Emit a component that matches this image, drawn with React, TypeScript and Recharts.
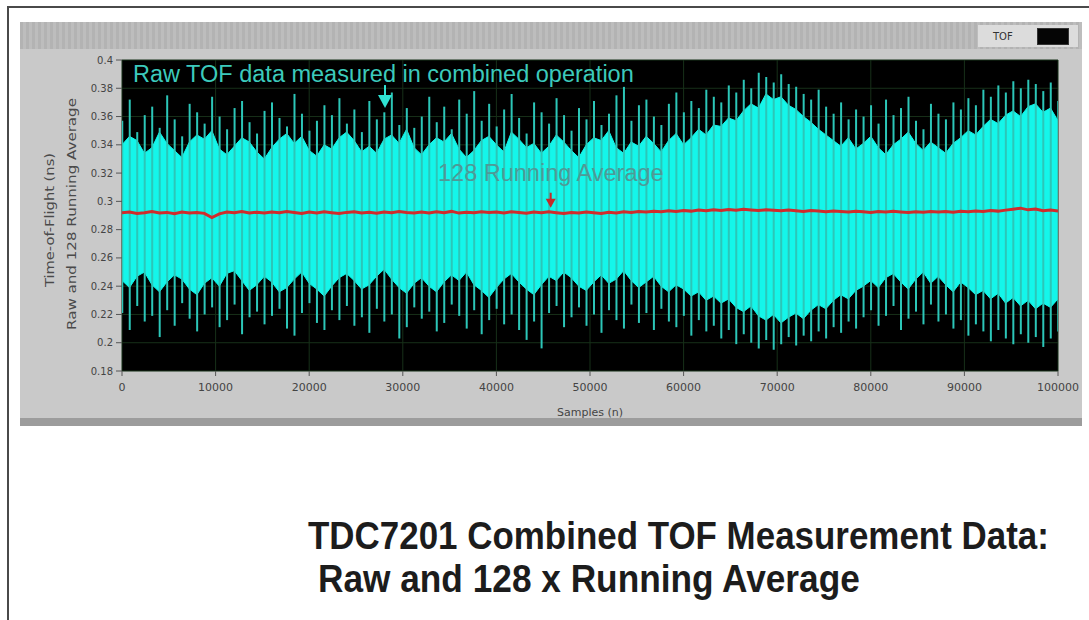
import React from 'react';
import { ComposedChart, Area, Bar, Line, XAxis, YAxis, CartesianGrid, ReferenceDot } from 'recharts';

// one bin = 800 samples; 126 bins cover 0..100000
const BIN_SIZE = 800;

const spikeHigh = [
  0.357, 0.372, 0.349, 0.361, 0.367, 0.352, 0.375, 0.358, 0.346, 0.369,
  0.363, 0.355, 0.374, 0.360, 0.351, 0.366, 0.371, 0.356, 0.348, 0.364,
  0.370, 0.359, 0.353, 0.376, 0.362, 0.350, 0.357, 0.368, 0.361, 0.373,
  0.355, 0.365, 0.349, 0.371, 0.358, 0.363, 0.377, 0.354, 0.366, 0.352,
  0.360, 0.374, 0.356, 0.367, 0.351, 0.372, 0.362, 0.378, 0.357, 0.369,
  0.353, 0.365, 0.376, 0.359, 0.348, 0.370, 0.363, 0.355, 0.373, 0.361,
  0.350, 0.366, 0.358, 0.371, 0.354, 0.362, 0.375, 0.381, 0.357, 0.368,
  0.372, 0.360, 0.354, 0.369, 0.377, 0.363, 0.371, 0.366, 0.379, 0.374,
  0.370, 0.382, 0.377, 0.386, 0.380, 0.391, 0.388, 0.384, 0.390, 0.383,
  0.381, 0.376, 0.372, 0.379, 0.367, 0.362, 0.370, 0.358, 0.365, 0.360,
  0.368, 0.355, 0.372, 0.361, 0.366, 0.374, 0.357, 0.351, 0.369, 0.362,
  0.358, 0.370, 0.365, 0.373, 0.368, 0.379, 0.374, 0.382, 0.377, 0.385,
  0.380, 0.386, 0.383, 0.378, 0.384, 0.371,
];

const spikeLow = [
  0.221, 0.209, 0.226, 0.215, 0.219, 0.204, 0.223, 0.212, 0.228, 0.217,
  0.208, 0.220, 0.225, 0.211, 0.216, 0.227, 0.206, 0.218, 0.222, 0.213,
  0.219, 0.224, 0.210, 0.205, 0.221, 0.228, 0.214, 0.209, 0.223, 0.216,
  0.226, 0.212, 0.218, 0.207, 0.224, 0.215, 0.220, 0.203, 0.211, 0.225,
  0.217, 0.222, 0.208, 0.214, 0.227, 0.219, 0.210, 0.223, 0.206, 0.216,
  0.224, 0.213, 0.220, 0.209, 0.202, 0.215, 0.196, 0.221, 0.226, 0.211,
  0.218, 0.225, 0.212, 0.220, 0.207, 0.223, 0.216, 0.210, 0.227, 0.214,
  0.221, 0.209, 0.224, 0.215, 0.211, 0.219, 0.205, 0.216, 0.208, 0.212,
  0.203, 0.209, 0.199, 0.206, 0.200, 0.196, 0.202, 0.195, 0.199, 0.204,
  0.198, 0.205, 0.201, 0.208, 0.203, 0.211, 0.207, 0.215, 0.210, 0.218,
  0.223, 0.212, 0.219, 0.226, 0.209, 0.217, 0.222, 0.213, 0.227, 0.215,
  0.220, 0.210, 0.216, 0.205, 0.213, 0.208, 0.201, 0.209, 0.203, 0.199,
  0.206, 0.200, 0.204, 0.197, 0.203, 0.208,
];

const bodyHigh = [
  0.340, 0.346, 0.343, 0.334, 0.338, 0.349, 0.341, 0.336, 0.331, 0.342,
  0.347, 0.344, 0.350, 0.337, 0.333, 0.339, 0.345, 0.342, 0.335, 0.330,
  0.338, 0.344, 0.348, 0.341, 0.346, 0.336, 0.332, 0.340, 0.337, 0.345,
  0.349, 0.343, 0.335, 0.339, 0.334, 0.344, 0.347, 0.341, 0.351, 0.338,
  0.333, 0.340, 0.345, 0.342, 0.348, 0.337, 0.331, 0.336, 0.343, 0.346,
  0.340, 0.335, 0.349, 0.344, 0.338, 0.341, 0.334, 0.339, 0.347, 0.342,
  0.336, 0.331, 0.340, 0.345, 0.343, 0.350, 0.338, 0.334, 0.342, 0.339,
  0.346, 0.341, 0.335, 0.343, 0.348, 0.340, 0.345, 0.351, 0.347, 0.354,
  0.353, 0.359, 0.357, 0.364, 0.369, 0.366, 0.376, 0.372, 0.374, 0.368,
  0.365, 0.360, 0.356, 0.351, 0.347, 0.343, 0.339, 0.345, 0.337, 0.341,
  0.346, 0.338, 0.333, 0.340, 0.344, 0.349, 0.341, 0.336, 0.342, 0.338,
  0.334, 0.341, 0.345, 0.350, 0.347, 0.353, 0.358, 0.355, 0.361, 0.364,
  0.360, 0.367, 0.369, 0.363, 0.366, 0.357,
];

const bodyLow = [
  0.244, 0.239, 0.247, 0.250, 0.241, 0.236, 0.243, 0.248, 0.245, 0.238,
  0.234, 0.242, 0.246, 0.240, 0.249, 0.251, 0.244, 0.237, 0.241, 0.247,
  0.243, 0.236, 0.239, 0.245, 0.250, 0.242, 0.238, 0.233, 0.240, 0.246,
  0.249, 0.244, 0.238, 0.241, 0.247, 0.252, 0.245, 0.239, 0.235, 0.242,
  0.246, 0.240, 0.236, 0.243, 0.248, 0.244, 0.250, 0.241, 0.237, 0.232,
  0.239, 0.245, 0.249, 0.243, 0.238, 0.234, 0.241, 0.247, 0.244, 0.250,
  0.246, 0.240, 0.237, 0.243, 0.248, 0.242, 0.245, 0.251, 0.244, 0.239,
  0.243, 0.247, 0.240, 0.236, 0.241, 0.238, 0.233, 0.236, 0.230, 0.233,
  0.228, 0.231, 0.225, 0.222, 0.226, 0.219, 0.216, 0.220, 0.214, 0.218,
  0.221, 0.217, 0.223, 0.227, 0.224, 0.230, 0.234, 0.231, 0.237, 0.240,
  0.244, 0.239, 0.246, 0.249, 0.243, 0.238, 0.245, 0.250, 0.242, 0.247,
  0.241, 0.236, 0.243, 0.239, 0.234, 0.237, 0.231, 0.235, 0.228, 0.232,
  0.226, 0.230, 0.224, 0.228, 0.225, 0.231,
];

const runningAverage = [
  0.2920, 0.2925, 0.2915, 0.2920, 0.2928, 0.2918, 0.2922, 0.2912, 0.2925, 0.2918,
  0.2922, 0.2915, 0.2885, 0.2912, 0.2925, 0.2920, 0.2928, 0.2918, 0.2923, 0.2917,
  0.2925, 0.2919, 0.2928, 0.2921, 0.2915, 0.2924, 0.2918, 0.2926, 0.2920, 0.2914,
  0.2922, 0.2927, 0.2918, 0.2923, 0.2916, 0.2925, 0.2919, 0.2928, 0.2921, 0.2917,
  0.2924, 0.2918, 0.2926, 0.2920, 0.2929, 0.2917, 0.2923, 0.2919, 0.2926, 0.2921,
  0.2925, 0.2918, 0.2927, 0.2922, 0.2916, 0.2924, 0.2919, 0.2926, 0.2920, 0.2915,
  0.2922, 0.2917, 0.2925, 0.2919, 0.2914, 0.2923, 0.2918, 0.2926, 0.2921, 0.2928,
  0.2924, 0.2930, 0.2926, 0.2933, 0.2928, 0.2935, 0.2931, 0.2938, 0.2934, 0.2940,
  0.2936, 0.2942, 0.2938, 0.2944, 0.2939, 0.2935, 0.2941, 0.2937, 0.2933, 0.2938,
  0.2934, 0.2929, 0.2935, 0.2931, 0.2926, 0.2932, 0.2928, 0.2924, 0.2930, 0.2926,
  0.2922, 0.2928, 0.2924, 0.2930, 0.2925, 0.2921, 0.2927, 0.2923, 0.2929, 0.2924,
  0.2928, 0.2923, 0.2930, 0.2926, 0.2932, 0.2928, 0.2935, 0.2931, 0.2938, 0.2945,
  0.2952, 0.2940, 0.2946, 0.2934, 0.2938, 0.2932,
];

const xTicks = [0, 10000, 20000, 30000, 40000, 50000, 60000, 70000, 80000, 90000, 100000];
const yTicks = [0.18, 0.2, 0.22, 0.24, 0.26, 0.28, 0.3, 0.32, 0.34, 0.36, 0.38, 0.4];

const rawMarker = { sample: 28100, value: 0.366 };
const avgMarker = { sample: 45800, value: 0.2955 };

const data = runningAverage.map((avg, i) => ({
  sample: i * BIN_SIZE,
  spike: [spikeLow[i], spikeHigh[i]],
  body: [bodyLow[i], bodyHigh[i]],
  avg,
}));

const CyanMarker = (p: any) => {
  const { cx, cy } = p;
  if (cx == null || cy == null) return <g />;
  return (
    <g>
      <line x1={cx} y1={cy - 23} x2={cx} y2={cy - 12} stroke="#2fe3d3" strokeWidth={2} />
      <path d={`M${cx - 7},${cy - 13} L${cx + 7},${cy - 13} L${cx},${cy} Z`} fill="#2fe3d3" />
    </g>
  );
};

const RedMarker = (p: any) => {
  const { cx, cy } = p;
  if (cx == null || cy == null) return <g />;
  return (
    <g>
      <line x1={cx} y1={cy - 15} x2={cx} y2={cy - 8} stroke="#c42a2a" strokeWidth={2} />
      <path d={`M${cx - 5},${cy - 9} L${cx + 5},${cy - 9} L${cx},${cy} Z`} fill="#c42a2a" />
    </g>
  );
};

const smallFont = "'DejaVu Sans', Verdana, sans-serif";
const arial = "'Liberation Sans', Arial, Helvetica, sans-serif";

export default function App() {
  return (
    <div style={{ position: 'absolute', left: 0, top: 0, width: 1089, height: 620, background: '#fff', overflow: 'hidden' }}>
      {/* outer frame */}
      <div style={{ position: 'absolute', left: 7, top: 6, width: 1100, height: 2, background: '#4a4a4a' }} />
      <div style={{ position: 'absolute', left: 7, top: 6, width: 2, height: 620, background: '#4a4a4a' }} />
      {/* gray panel */}
      <div style={{ position: 'absolute', left: 20, top: 22, width: 1062, height: 404, background: '#c9c9c9' }} />
      <div
        style={{
          position: 'absolute', left: 20, top: 22, width: 1062, height: 27,
          background: 'repeating-linear-gradient(90deg, #b3b3b3 0px, #b3b3b3 3px, #bdbdbd 3px, #bdbdbd 6px)',
        }}
      />
      <div style={{ position: 'absolute', left: 20, top: 418, width: 1062, height: 8, background: '#9c9c9c' }} />
      {/* legend */}
      <div style={{ position: 'absolute', left: 978, top: 25, width: 100, height: 22, background: '#dcdcdc' }} />
      <div style={{ position: 'absolute', left: 1037, top: 28, width: 32, height: 17, background: '#050505', boxShadow: 'inset 0 0 0 1px #333' }} />

      <div style={{ position: 'absolute', left: 0, top: 0 }}>
        <ComposedChart width={1089} height={620} data={data} margin={{ top: 60, right: 31, bottom: 219, left: 82 }}>
          <CartesianGrid fill="#000" stroke="#173019" strokeWidth={1} />
          <XAxis
            dataKey="sample"
            type="number"
            domain={[0, 100000]}
            ticks={xTicks}
            interval={0}
            allowDataOverflow
            height={30}
            axisLine={false}
            tickSize={5}
            tickMargin={7}
            tickLine={{ stroke: '#555' }}
            tick={{ fontSize: 11, fill: '#444', fontFamily: smallFont }}
          />
          <YAxis
            type="number"
            domain={[0.18, 0.4]}
            ticks={yTicks}
            interval={0}
            allowDataOverflow
            width={40}
            axisLine={false}
            tickSize={6}
            tickMargin={3}
            tickLine={{ stroke: '#555' }}
            tick={{ fontSize: 10, fill: '#444', fontFamily: smallFont }}
          />
          <Bar dataKey="spike" barSize={2} fill="#2cc6b8" isAnimationActive={false} />
          <Area
            type="linear"
            dataKey="body"
            fill="#14f6ea"
            fillOpacity={1}
            stroke="#14f6ea"
            strokeWidth={1}
            dot={false}
            activeDot={false}
            isAnimationActive={false}
          />
          <Line type="linear" dataKey="avg" stroke="#d02c2c" strokeWidth={3} dot={false} activeDot={false} isAnimationActive={false} />
          <ReferenceDot x={rawMarker.sample} y={rawMarker.value} shape={CyanMarker} />
          <ReferenceDot x={avgMarker.sample} y={avgMarker.value} shape={RedMarker} />
        </ComposedChart>
      </div>

      <svg width={1089} height={620} style={{ position: 'absolute', left: 0, top: 0, pointerEvents: 'none' }}>
        <text x={133} y={82} fontFamily={arial} fontSize={23.5} fill="#3ccabc">
          Raw TOF data measured in combined operation
        </text>
        <text x={438} y={181} fontFamily={arial} fontSize={23.5} fill="#4f9996">
          128 Running Average
        </text>
        <text x={993} y={40} fontFamily={smallFont} fontSize={10} fill="#333">TOF</text>
        <text x={590} y={416} fontFamily={smallFont} fontSize={11} fill="#444" textAnchor="middle">Samples (n)</text>
        <text transform="translate(54,220) rotate(-90)" fontFamily={smallFont} fontSize={12} fill="#4a4a4a" textAnchor="middle" textLength={134} lengthAdjust="spacingAndGlyphs">
          Time-of-Flight (ns)
        </text>
        <text transform="translate(76,214) rotate(-90)" fontFamily={smallFont} fontSize={12} fill="#4a4a4a" textAnchor="middle" textLength={232} lengthAdjust="spacingAndGlyphs">
          Raw and 128 Running Average
        </text>
        <g transform="translate(308,549) scale(0.896,1)">
          <text x={0} y={0} fontFamily={arial} fontWeight="bold" fontSize={39} fill="#1c1c1c">
            TDC7201 Combined TOF Measurement Data:
          </text>
        </g>
        <g transform="translate(318,592) scale(0.904,1)">
          <text x={0} y={0} fontFamily={arial} fontWeight="bold" fontSize={39} fill="#1c1c1c">
            Raw and 128 x Running Average
          </text>
        </g>
      </svg>
    </div>
  );
}
